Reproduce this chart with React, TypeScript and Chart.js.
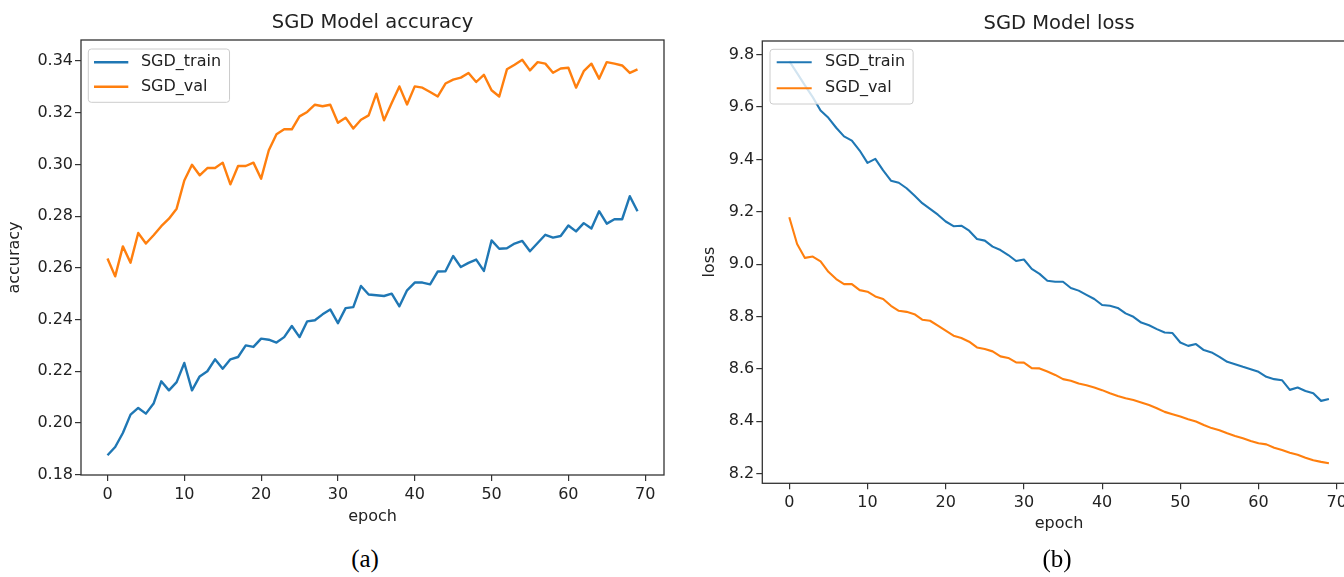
import React, { useEffect, useRef } from "react";
import { Chart, registerables } from "chart.js";

Chart.register(...registerables);

// ---------- data ----------
const epochs = [
  0, 1, 2, 3, 4, 5, 6, 7, 8, 9, 10, 11, 12, 13, 14, 15, 16, 17, 18, 19,
  20, 21, 22, 23, 24, 25, 26, 27, 28, 29, 30, 31, 32, 33, 34, 35, 36, 37, 38, 39,
  40, 41, 42, 43, 44, 45, 46, 47, 48, 49, 50, 51, 52, 53, 54, 55, 56, 57, 58, 59,
  60, 61, 62, 63, 64, 65, 66, 67, 68, 69,
];
const seriesLabels = ["SGD_train", "SGD_val"];

const accTrain = [
  0.1875, 0.1907, 0.1961, 0.2032, 0.2058, 0.2036, 0.2075, 0.2161, 0.2126, 0.2158,
  0.2232, 0.2126, 0.218, 0.22, 0.2246, 0.221, 0.2246, 0.2255, 0.23, 0.2294,
  0.2326, 0.2322, 0.2311, 0.2332, 0.2375, 0.2332, 0.2393, 0.2397, 0.242, 0.2439,
  0.2386, 0.2444, 0.2448, 0.253, 0.2497, 0.2494, 0.2491, 0.25, 0.2451, 0.2513,
  0.2543, 0.2543, 0.2536, 0.2586, 0.2587, 0.2646, 0.2603, 0.2619, 0.2632, 0.2588,
  0.2706, 0.2674, 0.2676, 0.2694, 0.2704, 0.2664, 0.2696, 0.2728, 0.2717, 0.2723,
  0.2764, 0.2741, 0.2773, 0.2752, 0.2819, 0.2771, 0.2788, 0.2788, 0.2877, 0.2819,
];
const accVal = [
  0.2636, 0.2567, 0.2683, 0.262, 0.2735, 0.2694, 0.2726, 0.2761, 0.279, 0.2829,
  0.2938, 0.2999, 0.2958, 0.2986, 0.2986, 0.3007, 0.2923, 0.2994, 0.2994, 0.3007,
  0.2945, 0.3055, 0.3117, 0.3136, 0.3136, 0.3186, 0.3203, 0.3231, 0.3225, 0.3231,
  0.3161, 0.3181, 0.3139, 0.3173, 0.319, 0.3274, 0.3171, 0.3238, 0.3302, 0.3232,
  0.3302, 0.3297, 0.328, 0.3263, 0.3313, 0.3328, 0.3336, 0.3354, 0.3319, 0.3347,
  0.3287, 0.3263, 0.3368, 0.3386, 0.3405, 0.3364, 0.3396, 0.339, 0.3355, 0.3371,
  0.3374, 0.3297, 0.3361, 0.339, 0.3332, 0.3396, 0.339, 0.3383, 0.3354, 0.3368,
];
const lossTrain = [
  9.7755, 9.7296, 9.6826, 9.638, 9.587, 9.559, 9.521, 9.488, 9.472, 9.434,
  9.387, 9.402, 9.358, 9.319, 9.311, 9.29, 9.262, 9.233, 9.211, 9.189,
  9.163, 9.145, 9.147, 9.128, 9.096, 9.09, 9.067, 9.054, 9.035, 9.012,
  9.018, 8.982, 8.963, 8.937, 8.933, 8.933, 8.909, 8.899, 8.883, 8.867,
  8.844, 8.841, 8.833, 8.812, 8.799, 8.777, 8.767, 8.752, 8.739, 8.737,
  8.701, 8.688, 8.695, 8.672, 8.663, 8.646, 8.627, 8.618, 8.608, 8.599,
  8.589, 8.57, 8.561, 8.557, 8.52, 8.529, 8.516, 8.507, 8.478, 8.485,
];
const lossVal = [
  9.179, 9.077, 9.024, 9.029, 9.011, 8.971, 8.943, 8.924, 8.924, 8.901,
  8.895, 8.877, 8.867, 8.841, 8.822, 8.818, 8.809, 8.788, 8.784, 8.765,
  8.746, 8.727, 8.718, 8.704, 8.682, 8.676, 8.667, 8.648, 8.642, 8.625,
  8.624, 8.603, 8.602, 8.59, 8.577, 8.561, 8.555, 8.544, 8.538, 8.529,
  8.519, 8.507, 8.497, 8.488, 8.481, 8.472, 8.462, 8.45, 8.436, 8.427,
  8.418, 8.408, 8.399, 8.386, 8.374, 8.366, 8.354, 8.344, 8.335, 8.325,
  8.316, 8.312, 8.299, 8.29, 8.28, 8.272, 8.261, 8.251, 8.245, 8.24,
];

const epochTicks = [0, 10, 20, 30, 40, 50, 60, 70];
const accTicks = [0.18, 0.2, 0.22, 0.24, 0.26, 0.28, 0.3, 0.32, 0.34];
const lossTicks = [8.2, 8.4, 8.6, 8.8, 9.0, 9.2, 9.4, 9.6, 9.8];

// ---------- styling ----------
const BLUE = "#1f77b4";
const ORANGE = "#ff7f0e";
const FONT = "'DejaVu Sans', sans-serif";
const TEXT = "#222";
const SPINE = "#333";

function limits(arrs: number[][]) {
  let mn = Infinity;
  let mx = -Infinity;
  arrs.forEach((a) => a.forEach((v) => { if (v < mn) mn = v; if (v > mx) mx = v; }));
  const m = (mx - mn) * 0.05;
  return [mn - m, mx + m];
}

const framePlugin = {
  id: "frame",
  afterDatasetsDraw(chart: any, _args: any, o: any) {
    const { ctx, chartArea: a } = chart;
    ctx.save();
    ctx.strokeStyle = SPINE;
    ctx.lineWidth = 1.3;
    ctx.strokeRect(a.left, a.top, a.right - a.left, a.bottom - a.top);

    // legend (matplotlib style)
    ctx.font = `16px ${FONT}`;
    const ds = chart.data.datasets;
    let tw = 0;
    ds.forEach((d: any) => { tw = Math.max(tw, ctx.measureText(d.label).width); });
    const bx = a.left + o.dx;
    const by = a.top + o.dy;
    const textX = bx + o.textOff;
    const bw = o.textOff + tw + o.padR;
    const bh = o.boxH;
    const r = 3;
    ctx.beginPath();
    ctx.moveTo(bx + r, by);
    ctx.lineTo(bx + bw - r, by);
    ctx.quadraticCurveTo(bx + bw, by, bx + bw, by + r);
    ctx.lineTo(bx + bw, by + bh - r);
    ctx.quadraticCurveTo(bx + bw, by + bh, bx + bw - r, by + bh);
    ctx.lineTo(bx + r, by + bh);
    ctx.quadraticCurveTo(bx, by + bh, bx, by + bh - r);
    ctx.lineTo(bx, by + r);
    ctx.quadraticCurveTo(bx, by, bx + r, by);
    ctx.closePath();
    ctx.fillStyle = "rgba(255,255,255,0.8)";
    ctx.fill();
    ctx.strokeStyle = "#cccccc";
    ctx.lineWidth = 1;
    ctx.stroke();
    ds.forEach((d: any, i: number) => {
      const y = by + o.firstRow + i * o.rowH;
      ctx.beginPath();
      ctx.strokeStyle = d.borderColor;
      ctx.lineWidth = d.borderWidth;
      ctx.moveTo(bx + o.lineStart, y);
      ctx.lineTo(bx + o.lineStart + o.lineLen, y);
      ctx.stroke();
      ctx.fillStyle = TEXT;
      ctx.textBaseline = "middle";
      ctx.textAlign = "left";
      ctx.fillText(d.label, textX, y);
    });
    ctx.restore();
  },
};

type Cfg = {
  title: string;
  yTitle: string;
  train: number[];
  val: number[];
  yTicks: number[];
  yDigits: number;
  lw: number;
  yW: number;
  xH: number;
  pad: { left: number; right: number; top: number; bottom: number };
  titlePad: { top: number; bottom: number };
  yTitlePad: number;
  xTickPad: number;
  yTickPad: number;
  legend: any;
};

function makeChart(canvas: HTMLCanvasElement, c: Cfg) {
  const [xmin, xmax] = limits([epochs]);
  const [ymin, ymax] = limits([c.train, c.val]);
  const tickFont = { family: FONT, size: 16 };
  return new Chart(canvas, {
    type: "line",
    data: {
      datasets: [
        {
          label: seriesLabels[0],
          data: epochs.map((e, i) => ({ x: e, y: c.train[i] })),
          borderColor: BLUE,
          backgroundColor: BLUE,
          borderWidth: c.lw,
          pointRadius: 0,
          tension: 0,
          borderJoinStyle: "round",
          fill: false,
        },
        {
          label: seriesLabels[1],
          data: epochs.map((e, i) => ({ x: e, y: c.val[i] })),
          borderColor: ORANGE,
          backgroundColor: ORANGE,
          borderWidth: c.lw,
          pointRadius: 0,
          tension: 0,
          borderJoinStyle: "round",
          fill: false,
        },
      ],
    },
    options: {
      responsive: false,
      maintainAspectRatio: false,
      animation: false,
      events: [],
      layout: { padding: c.pad },
      scales: {
        x: {
          type: "linear",
          min: xmin,
          max: xmax,
          afterBuildTicks: (s: any) => { s.ticks = epochTicks.map((v) => ({ value: v })); },
          afterFit: (s: any) => { s.height = c.xH; },
          grid: { drawOnChartArea: false, drawTicks: true, tickLength: 6, color: SPINE, lineWidth: 1.2 },
          border: { display: false },
          ticks: {
            padding: c.xTickPad,
            color: TEXT,
            font: tickFont,
            maxRotation: 0,
            autoSkip: false,
            callback: (v: any) => String(v),
          },
          title: { display: true, text: "epoch", color: TEXT, font: tickFont, padding: { top: 0, bottom: 0 } },
        },
        y: {
          type: "linear",
          min: ymin,
          max: ymax,
          afterBuildTicks: (s: any) => { s.ticks = c.yTicks.map((v) => ({ value: v })); },
          afterFit: (s: any) => { s.width = c.yW; },
          grid: { drawOnChartArea: false, drawTicks: true, tickLength: 6, color: SPINE, lineWidth: 1.2 },
          border: { display: false },
          ticks: {
            padding: c.yTickPad,
            color: TEXT,
            font: tickFont,
            autoSkip: false,
            callback: (v: any) => Number(v).toFixed(c.yDigits),
          },
          title: { display: true, text: c.yTitle, color: TEXT, font: tickFont, padding: { top: c.yTitlePad, bottom: 0 } },
        },
      },
      plugins: {
        legend: { display: false },
        tooltip: { enabled: false },
        title: {
          display: true,
          text: c.title,
          fullSize: false,
          color: TEXT,
          font: { family: FONT, size: 19.5, weight: "normal" },
          padding: c.titlePad,
        },
        frame: c.legend,
      } as any,
    },
    plugins: [framePlugin as any],
  } as any);
}

function Panel(props: { left: number; width: number; height: number; cfg: Cfg }) {
  const ref = useRef<HTMLCanvasElement>(null);
  useEffect(() => {
    if (!ref.current) return;
    const ch = makeChart(ref.current, props.cfg);
    return () => ch.destroy();
  }, []);
  return (
    <canvas
      ref={ref}
      width={props.width}
      height={props.height}
      style={{ position: "absolute", left: props.left, top: 0, width: props.width, height: props.height }}
    />
  );
}

const leftCfg: Cfg = {
  title: "SGD Model accuracy",
  yTitle: "accuracy",
  train: accTrain,
  val: accVal,
  yTicks: accTicks,
  yDigits: 2,
  lw: 2.4,
  yW: 81,
  xH: 51.6,
  pad: { left: 0, right: 16, top: 0, bottom: 540 - 475 - 51.6 },
  titlePad: { top: 11, bottom: 40 - 11 - 23.4 },
  yTitlePad: 5,
  xTickPad: 4,
  yTickPad: 2,
  legend: { dx: 7.3, dy: 9, textOff: 52.6, padR: 8.5, boxH: 53.3, lineStart: 5.7, lineLen: 34.3, firstRow: 13.3, rowH: 24.4 },
};

const rightCfg: Cfg = {
  title: "SGD Model loss",
  yTitle: "loss",
  train: lossTrain,
  val: lossVal,
  yTicks: lossTicks,
  yDigits: 1,
  lw: 2.1,
  yW: 72.3,
  xH: 50,
  pad: { left: 0, right: 24.1, top: 0, bottom: 545 - 483.3 - 50 },
  titlePad: { top: 11.8, bottom: 41 - 11.8 - 23.4 },
  yTitlePad: 10,
  xTickPad: 3.6,
  yTickPad: 2,
  legend: { dx: 7.7, dy: 8.3, textOff: 55, padR: 8, boxH: 54.7, lineStart: 6.7, lineLen: 35, firstRow: 13, rowH: 26 },
};

export default function App() {
  return (
    <div
      style={{
        position: "fixed",
        left: 0,
        top: 0,
        width: 1344,
        height: 577,
        overflow: "hidden",
        background: "#fff",
      }}
    >
      <Panel left={0} width={680} height={540} cfg={leftCfg} />
      <Panel left={690} width={690} height={545} cfg={rightCfg} />
      <div
        style={{
          position: "absolute",
          left: 315,
          width: 100,
          top: 544,
          textAlign: "center",
          fontFamily: "'Liberation Serif', 'Times New Roman', serif",
          fontSize: 25,
          lineHeight: "30px",
          color: "#000",
        }}
      >
        (a)
      </div>
      <div
        style={{
          position: "absolute",
          left: 1007,
          width: 100,
          top: 544,
          textAlign: "center",
          fontFamily: "'Liberation Serif', 'Times New Roman', serif",
          fontSize: 25,
          lineHeight: "30px",
          color: "#000",
        }}
      >
        (b)
      </div>
    </div>
  );
}
